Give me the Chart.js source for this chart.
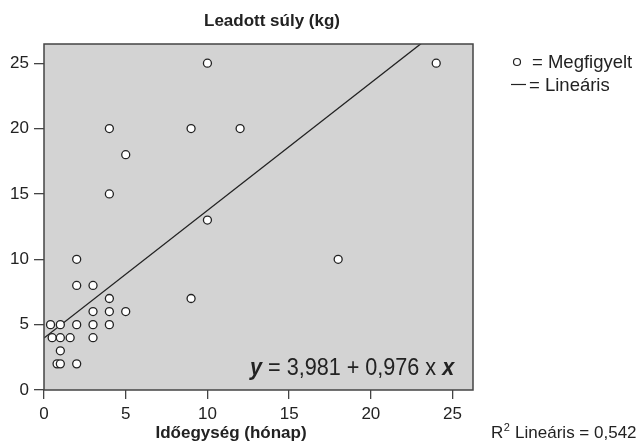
<!DOCTYPE html>
<html>
<head>
<meta charset="utf-8">
<script src="https://cdn.jsdelivr.net/npm/chart.js@4/dist/chart.umd.min.js"></script>
<style>
  body { margin: 0; background: #fff; }
  #wrap { width: 641px; height: 445px; }
</style>
</head>
<body>
<div id="wrap"><canvas id="weightChart" width="641" height="445"></canvas></div>
<script>
// observed cases: months vs. weight lost
const monthsObserved = [0.4, 1, 2, 3, 4, 0.5, 1, 1.6, 3, 1, 0.8, 1, 2, 2, 3,
                        4, 9, 3, 4, 5, 2, 4, 10, 4, 9, 12, 5, 10, 24, 18];
const kgObserved = [5, 5, 5, 5, 5, 4, 4, 4, 4, 3, 2, 2, 2, 8, 8,
                    7, 7, 6, 6, 6, 10, 15, 13, 20, 20, 20, 18, 25, 25, 10];

// linear fit as printed on the chart
const intercept = 3.981;
const slope = 0.976;
const rSquared = "0,542";

const xTicks = [0, 5, 10, 15, 20, 25];
const yTicks = [0, 5, 10, 15, 20, 25];
const xMax = 26.25;
const yMax = 26.47;

const FONT = "'Liberation Sans', Arial, sans-serif";
const INK = "#222";

const points = monthsObserved.map((m, i) => ({ x: m, y: kgObserved[i] }));
const fitLine = [0, xMax].map(x => ({ x: x, y: intercept + slope * x }));

const plotFrame = {
    id: "plotFrame",
    beforeDatasetsDraw(chart) {
        const { ctx, chartArea: a } = chart;
        ctx.save();
        ctx.fillStyle = "#d3d3d3";
        ctx.fillRect(a.left, a.top, a.right - a.left, a.bottom - a.top);
        ctx.restore();
    },
    afterDraw(chart) {
        const { ctx, chartArea: a } = chart;
        ctx.save();
        ctx.strokeStyle = "#444";
        ctx.lineWidth = 1.5;
        ctx.strokeRect(a.left, a.top, a.right - a.left, a.bottom - a.top);

        ctx.fillStyle = INK;
        ctx.textBaseline = "alphabetic";

        // titles
        ctx.font = "bold 17px " + FONT;
        ctx.textAlign = "center";
        ctx.fillText("Leadott súly (kg)", 272, 26);
        ctx.fillText("Időegység (hónap)", 231, 438);

        // fit equation, slightly condensed
        ctx.save();
        ctx.translate(250, 375);
        ctx.scale(0.9, 1);
        ctx.textAlign = "left";
        let x = 0;
        const parts = [
            ["bold italic 24px ", "y"],
            ["24px ", " = 3,981 + 0,976 x "],
            ["bold italic 24px ", "x"]
        ];
        parts.forEach(([f, t]) => {
            ctx.font = f + FONT;
            ctx.fillText(t, x, 0);
            x += ctx.measureText(t).width;
        });
        ctx.restore();

        // legend
        ctx.textAlign = "left";
        ctx.font = "18.5px " + FONT;
        ctx.beginPath();
        ctx.arc(517, 62, 3.5, 0, Math.PI * 2);
        ctx.fillStyle = "#fff";
        ctx.fill();
        ctx.lineWidth = 1.2;
        ctx.strokeStyle = INK;
        ctx.stroke();
        ctx.fillStyle = INK;
        ctx.fillText("= Megfigyelt", 532, 68);
        ctx.beginPath();
        ctx.moveTo(511, 84.5);
        ctx.lineTo(526, 84.5);
        ctx.stroke();
        ctx.fillText("= Lineáris", 529, 91);

        // R squared
        ctx.font = "17px " + FONT;
        ctx.fillText("R", 491, 438);
        let rx = 491 + ctx.measureText("R").width;
        ctx.font = "11px " + FONT;
        ctx.fillText("2", rx + 0.5, 431);
        rx += ctx.measureText("2").width + 1;
        ctx.font = "17px " + FONT;
        ctx.fillText(" Lineáris = " + rSquared, rx, 438);
        ctx.restore();
    }
};

new Chart(document.getElementById("weightChart"), {
    type: "scatter",
    data: {
        datasets: [{
            label: "Megfigyelt",
            data: points,
            pointRadius: 4,
            pointHoverRadius: 4,
            pointBackgroundColor: "#fff",
            pointBorderColor: INK,
            pointBorderWidth: 1.3,
            order: 1
        }, {
            label: "Lineáris",
            type: "line",
            data: fitLine,
            borderColor: INK,
            borderWidth: 1.3,
            pointRadius: 0,
            fill: false,
            order: 2
        }]
    },
    options: {
        responsive: false,
        animation: false,
        events: [],
        layout: { padding: { left: 0, top: 44, right: 168, bottom: 0 } },
        plugins: {
            legend: { display: false },
            tooltip: { enabled: false }
        },
        scales: {
            x: {
                type: "linear",
                min: 0,
                max: xMax,
                afterBuildTicks: s => { s.ticks = xTicks.map(v => ({ value: v })); },
                afterFit: s => { s.height = 55; },
                grid: { drawOnChartArea: false, drawTicks: true, tickLength: 9, color: "#444", lineWidth: 1.3 },
                border: { display: false },
                ticks: { color: INK, font: { family: FONT, size: 17 }, padding: 5, maxRotation: 0 }
            },
            y: {
                type: "linear",
                min: 0,
                max: yMax,
                afterBuildTicks: s => { s.ticks = yTicks.map(v => ({ value: v })); },
                afterFit: s => { s.width = 44; },
                grid: { drawOnChartArea: false, drawTicks: true, tickLength: 10, color: "#444", lineWidth: 1.3 },
                border: { display: false },
                ticks: { color: INK, font: { family: FONT, size: 17 }, padding: 5 }
            }
        }
    },
    plugins: [plotFrame]
});
</script>
</body>
</html>
